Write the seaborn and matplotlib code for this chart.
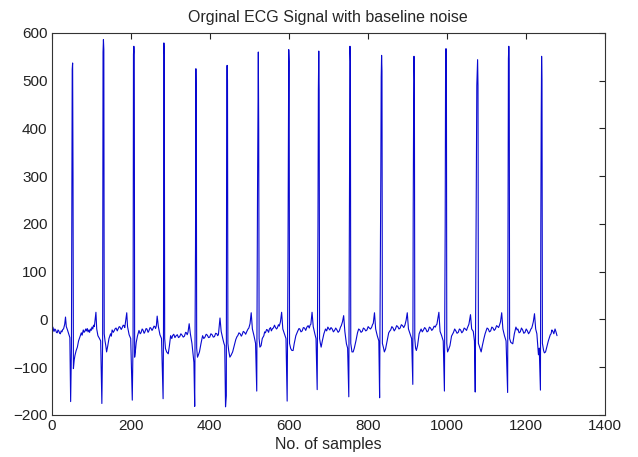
import numpy as np
import pandas as pd
import matplotlib
matplotlib.use("Agg")
import matplotlib.pyplot as plt
import seaborn as sns

# sample index / amplitude key points, one line per beat
beat_x = [
    [1, 3, 6, 8, 10, 12, 14, 16, 18, 20, 22, 24, 26, 28, 30, 33, 35, 37, 40, 43, 46],
    [48, 50, 52, 53, 54, 55, 57, 59, 62, 65, 68, 72, 75, 77, 80, 82, 84, 86, 88, 90, 92, 94, 96, 98, 100, 102, 104, 106, 108, 110, 112, 114, 117, 121, 124],
    [127, 129, 130, 131, 132, 133, 135, 137, 139, 142, 145, 149, 151, 153, 156, 158, 161, 163, 166, 168, 171, 173, 176, 178, 181, 183, 185, 187, 190, 192, 196, 200],
    [204, 206, 207, 208, 209, 210, 212, 214, 217, 221, 224, 226, 229, 231, 234, 236, 239, 241, 244, 246, 249, 251, 254, 256, 259, 261, 263, 265, 267, 270, 274, 278],
    [282, 283, 284, 285, 286, 288, 291, 295, 298, 301, 304, 306, 309, 312, 315, 318, 321, 324, 327, 330, 333, 336, 339, 341, 343, 345, 348, 351, 355, 358, 360],
    [362, 364, 365, 366, 367, 369, 371, 374, 378, 382, 385, 388, 391, 394, 397, 400, 403, 406, 409, 412, 415, 418, 420, 422, 424, 426, 429, 433, 436, 438],
    [440, 442, 443, 444, 445, 446, 448, 451, 454, 458, 462, 466, 469, 471, 474, 477, 480, 482, 485, 488, 491, 494, 497, 499, 502, 505, 508, 512, 516],
    [519, 521, 522, 523, 524, 525, 527, 530, 533, 537, 539, 541, 544, 546, 549, 551, 554, 556, 559, 561, 564, 566, 569, 571, 574, 576, 579, 582, 585, 589, 593],
    [596, 598, 599, 600, 601, 602, 605, 608, 611, 614, 618, 621, 623, 626, 628, 631, 634, 637, 640, 643, 646, 649, 652, 654, 656, 659, 662, 666, 669],
    [672, 674, 675, 676, 677, 678, 680, 682, 685, 689, 693, 696, 699, 702, 704, 707, 710, 713, 716, 719, 722, 725, 728, 731, 733, 736, 739, 742, 746, 749],
    [752, 754, 755, 756, 757, 760, 763, 766, 770, 774, 777, 780, 783, 786, 789, 792, 795, 798, 801, 804, 807, 810, 812, 814, 817, 820, 824, 828],
    [830, 833, 834, 835, 836, 837, 840, 842, 845, 849, 853, 856, 858, 861, 864, 867, 870, 873, 876, 879, 882, 885, 888, 891, 894, 897, 900, 903, 907, 911],
    [914, 915, 916, 917, 918, 919, 921, 923, 926, 930, 935, 938, 941, 944, 947, 950, 953, 956, 959, 962, 965, 968, 971, 973, 975, 977, 980, 983, 987, 991],
    [994, 996, 997, 998, 999, 1000, 1002, 1005, 1008, 1012, 1015, 1017, 1020, 1023, 1026, 1029, 1032, 1035, 1038, 1041, 1044, 1047, 1050, 1052, 1054, 1056, 1060, 1063, 1067, 1070],
    [1072, 1075, 1076, 1078, 1079, 1080, 1084, 1087, 1090, 1094, 1097, 1099, 1102, 1105, 1108, 1111, 1114, 1117, 1120, 1123, 1126, 1129, 1131, 1133, 1136, 1139, 1142, 1146, 1150],
    [1154, 1155, 1156, 1157, 1158, 1159, 1162, 1167, 1171, 1175, 1178, 1180, 1183, 1186, 1189, 1192, 1195, 1198, 1201, 1204, 1207, 1210, 1213, 1215, 1217, 1219, 1222, 1225, 1228, 1232, 1234],
    [1237, 1238, 1239, 1240, 1241, 1242, 1245, 1247, 1250, 1254, 1257, 1259, 1262, 1264, 1266, 1268, 1271, 1274, 1276, 1279],
]
beat_y = [
    [-40, -16, -25, -20, -22, -27, -28, -22, -24, -29, -30, -24, -26, -21, -20, -10, 5, -15, -22, -30, -38],
    [-172, -60, 524, 537, 300, -103, -85, -75, -65, -58, -45, -35, -28, -33, -22, -27, -25, -20, -24, -19, -26, -22, -27, -20, -23, -16, -20, -12, -15, 0, 15, -20, -34, -40, -45],
    [-176, -40, 560, 586, 565, -30, -45, -55, -68, -55, -40, -30, -35, -22, -27, -24, -19, -18, -24, -20, -15, -16, -21, -18, -12, -13, -17, -5, 14, -15, -32, -40],
    [-169, -40, 555, 572, 560, -79, -65, -48, -35, -23, -30, -28, -20, -22, -29, -26, -19, -20, -27, -24, -17, -18, -23, -20, -14, -15, -19, -13, 7, -15, -32, -40],
    [-166, -20, 579, 555, -40, -61, -68, -72, -55, -34, -40, -34, -31, -38, -34, -32, -38, -36, -30, -33, -37, -35, -27, -28, -32, -27, -9, -30, -50, -75, -90],
    [-182, 150, 525, 438, -60, -79, -75, -68, -50, -34, -40, -37, -31, -33, -38, -37, -30, -32, -37, -36, -29, -30, -34, -32, -15, 3, -25, -40, -50, -55],
    [-183, -160, 500, 532, 500, -50, -65, -79, -75, -68, -55, -42, -36, -34, -28, -30, -35, -32, -25, -27, -31, -25, -20, -18, -9, 14, -20, -34, -50],
    [-150, 270, 398, 560, 398, -40, -58, -55, -40, -34, -26, -28, -21, -22, -27, -20, -17, -24, -19, -18, -12, -16, -20, -18, -11, -14, -5, 15, -20, -30, -40],
    [-171, 108, 335, 565, 540, -50, -61, -65, -65, -50, -34, -28, -24, -19, -20, -26, -24, -17, -18, -23, -16, -13, -18, -12, -10, 15, -15, -30, -40],
    [-147, 200, 482, 562, 480, -40, -50, -58, -45, -30, -20, -24, -16, -20, -22, -17, -20, -26, -23, -18, -22, -27, -24, -16, -13, -5, 8, -25, -51, -60],
    [-162, 346, 572, 540, -50, -68, -68, -60, -45, -28, -20, -22, -27, -25, -18, -20, -24, -22, -15, -18, -20, -16, -11, -8, 14, -20, -34, -45],
    [-164, 300, 507, 553, 520, -50, -60, -68, -62, -45, -28, -24, -22, -15, -18, -24, -20, -13, -15, -20, -18, -11, -13, -17, -12, -2, 14, -20, -30, -40],
    [-136, 222, 424, 551, 500, -40, -60, -65, -55, -30, -20, -26, -22, -17, -20, -26, -24, -16, -18, -23, -20, -14, -16, -12, -10, 0, 15, -25, -34, -45],
    [-150, 200, 546, 567, 546, -50, -68, -62, -55, -35, -30, -27, -20, -24, -29, -27, -20, -22, -28, -25, -18, -20, -23, -18, -14, -10, 10, -20, -25, -45],
    [-152, 300, 490, 544, 490, -50, -60, -68, -55, -40, -30, -25, -18, -20, -26, -24, -16, -18, -23, -20, -13, -15, -17, -13, -5, 14, -20, -34, -45],
    [-153, 200, 546, 572, 546, -40, -48, -51, -30, -16, -22, -20, -28, -26, -18, -22, -29, -27, -20, -24, -30, -26, -20, -18, -12, -5, 12, -20, -30, -74, -60],
    [-148, 200, 424, 551, 500, -50, -65, -70, -68, -55, -45, -40, -32, -30, -22, -24, -30, -20, -25, -34],
]

x_ticks = [0, 200, 400, 600, 800, 1000, 1200, 1400]
y_ticks = [-200, -100, 0, 100, 200, 300, 400, 500, 600]
title = "Orginal ECG Signal with baseline noise"
xlabel = "No. of samples"

df = pd.DataFrame({
    "sample": np.concatenate(beat_x),
    "ecg": np.concatenate(beat_y),
})

sns.set_style("white")
plt.rcParams["font.family"] = ["Liberation Sans", "DejaVu Sans"]

fig, ax = plt.subplots(figsize=(6.38, 4.57), dpi=100)
fig.subplots_adjust(left=0.081, right=0.948, top=0.928, bottom=0.092)

sns.lineplot(data=df, x="sample", y="ecg", ax=ax, color="#0808d0",
             linewidth=0.8, sort=False, estimator=None)

ax.set_xlim(0, 1400)
ax.set_ylim(-200, 600)
ax.set_xticks(x_ticks)
ax.set_yticks(y_ticks)
ax.tick_params(direction="in", top=True, right=True, length=4, width=0.8,
               labelsize=11, colors="#222222", pad=3)
for s in ax.spines.values():
    s.set_color("#333333")
    s.set_linewidth(0.8)
ax.set_title(title, fontsize=11.5, pad=8)
ax.set_xlabel(xlabel, fontsize=11.5, labelpad=3)
ax.set_ylabel("")

fig.savefig("out.png", dpi=100)
